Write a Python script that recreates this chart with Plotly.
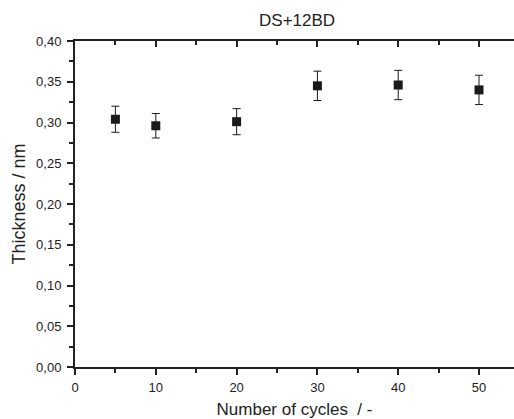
import plotly.graph_objects as go

cycles = [5, 10, 20, 30, 40, 50]
thickness = [0.304, 0.296, 0.301, 0.345, 0.346, 0.340]
errors = [0.016, 0.015, 0.016, 0.018, 0.018, 0.018]

fig = go.Figure()
fig.add_trace(go.Scatter(
    x=cycles, y=thickness, mode="markers",
    marker=dict(symbol="square", size=9, color="#1a1a1a"),
    error_y=dict(type="data", array=errors, visible=True, color="#1a1a1a", thickness=1, width=4),
    showlegend=False,
))
# invisible trace on top axis for inward ticks
fig.add_trace(go.Scatter(x=cycles, y=thickness, xaxis="x2", mode="markers",
                         marker=dict(opacity=0), showlegend=False, hoverinfo="skip"))

xr = [0, 54.33]
font = dict(family="Liberation Sans, Arial, sans-serif", color="#222222")
fig.update_layout(
    width=514, height=419,
    margin=dict(l=75, r=0, t=41, b=52),
    paper_bgcolor="white", plot_bgcolor="white",
    separators=", ",
    font=dict(family="Liberation Sans, Arial, sans-serif", size=13, color="#222222"),
    title=dict(text="DS+12BD", x=0.578, xanchor="center", y=0.953, yanchor="middle",
               font=dict(size=17, **font)),
    xaxis=dict(range=xr, tickvals=[0, 10, 20, 30, 40, 50], ticks="outside", ticklen=6, tickwidth=2,
               showline=True, linewidth=2, linecolor="#222222", showgrid=False, zeroline=False,
               minor=dict(tickvals=[5, 15, 25, 35, 45], ticks="outside", ticklen=4, tickwidth=2, tickcolor="#222222"),
               tickcolor="#222222", tickfont=dict(size=13), ticklabelstandoff=1,
               title=dict(text="Number of cycles  / -", font=dict(size=17), standoff=10)),
    xaxis2=dict(range=xr, overlaying="x", side="top", tickvals=[0, 10, 20, 30, 40, 50], ticks="inside",
                ticklen=6, tickwidth=2, tickcolor="#222222", showticklabels=False,
                showline=True, linewidth=2, linecolor="#222222", showgrid=False, zeroline=False,
                minor=dict(tickvals=[5, 15, 25, 35, 45], ticks="inside", ticklen=4, tickwidth=2, tickcolor="#222222")),
    yaxis=dict(range=[0, 0.40], tickvals=[0, 0.05, 0.10, 0.15, 0.20, 0.25, 0.30, 0.35, 0.40],
               tickformat=".2f", ticks="outside", ticklen=6, tickwidth=2, tickcolor="#222222",
               showline=True, linewidth=2, linecolor="#222222", showgrid=False, zeroline=False,
               minor=dict(tickvals=[0.025, 0.075, 0.125, 0.175, 0.225, 0.275, 0.325, 0.375],
                          ticks="outside", ticklen=4, tickwidth=2, tickcolor="#222222"),
               tickfont=dict(size=13), ticklabelstandoff=3,
               title=dict(text="Thickness / nm", font=dict(size=18), standoff=6)),
)
fig.write_html("out.html")
